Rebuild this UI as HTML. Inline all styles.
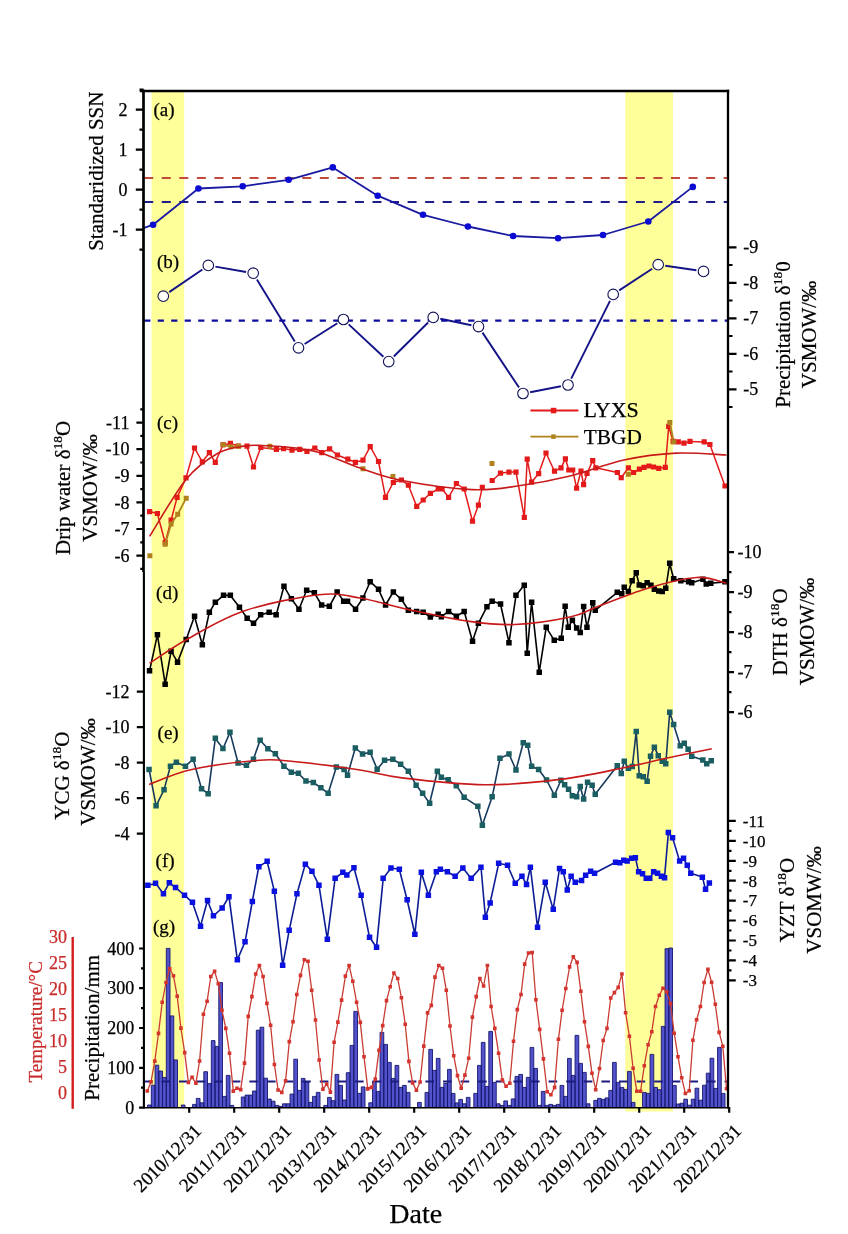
<!DOCTYPE html><html><head><meta charset="utf-8"><style>html,body{margin:0;padding:0;background:#fff;}svg{display:block;will-change:transform;}text{font-family:"Liberation Serif",serif;stroke-width:0.25px;}</style></head><body>
<svg width="848" height="1234" viewBox="0 0 848 1234">
<rect width="848" height="1234" fill="#fff"/>
<rect x="151.5" y="91" width="32.7" height="1016.5" fill="#FFFF99"/>
<rect x="625.3" y="91" width="47.7" height="1020.5" fill="#FFFF99"/>
<line x1="143.6" y1="178" x2="728.0" y2="178" stroke="#C24A3C" stroke-width="2.1" stroke-dasharray="9 8.56" stroke-dashoffset="-0.6"/>
<line x1="143.6" y1="202" x2="728.0" y2="202" stroke="#1E1E88" stroke-width="2.1" stroke-dasharray="9 8.56" stroke-dashoffset="-0.6"/>
<polyline points="143.6,228.2 153.1,224.7 198.4,188.5 242.7,186.3 288.6,179.8 332.8,167.4 377.7,195.7 423.0,214.8 467.9,226.5 513.1,236.0 558.1,238.2 603.0,235.0 648.3,221.5 692.8,186.9" fill="none" stroke="#1A1AA0" stroke-width="1.8" stroke-linejoin="round" />
<circle cx="153.1" cy="224.7" r="3.3" fill="#0A0AD2"/>
<circle cx="198.4" cy="188.5" r="3.3" fill="#0A0AD2"/>
<circle cx="242.7" cy="186.3" r="3.3" fill="#0A0AD2"/>
<circle cx="288.6" cy="179.8" r="3.3" fill="#0A0AD2"/>
<circle cx="332.8" cy="167.4" r="3.3" fill="#0A0AD2"/>
<circle cx="377.7" cy="195.7" r="3.3" fill="#0A0AD2"/>
<circle cx="423" cy="214.8" r="3.3" fill="#0A0AD2"/>
<circle cx="467.9" cy="226.5" r="3.3" fill="#0A0AD2"/>
<circle cx="513.1" cy="236" r="3.3" fill="#0A0AD2"/>
<circle cx="558.1" cy="238.2" r="3.3" fill="#0A0AD2"/>
<circle cx="603" cy="235" r="3.3" fill="#0A0AD2"/>
<circle cx="648.3" cy="221.5" r="3.3" fill="#0A0AD2"/>
<circle cx="692.8" cy="186.9" r="3.3" fill="#0A0AD2"/>
<path d="M169.2 292.1L202.4 269.5M215.4 266.6L246.1 272.0M256.9 279.4L294.8 341.6M304.6 344.0L337.3 323.3M348.7 324.4L383.4 356.7M393.8 356.5L428.1 322.5M440.3 318.8L471.4 325.2M482.5 332.6L519.0 387.5M530.1 392.2L560.9 386.3M571.2 378.6L610.0 300.8M619.2 290.4L652.2 268.7M665.3 265.8L696.4 270.3" stroke="#141488" stroke-width="1.9" fill="none"/>
<line x1="143.6" y1="320.6" x2="728.0" y2="320.6" stroke="#0C0CA0" stroke-width="2.3" stroke-dasharray="6.2 7.3" stroke-dashoffset="-0.6"/>
<circle cx="163.3" cy="296.2" r="5.3" fill="#fff" stroke="#12125A" stroke-width="1.1"/>
<circle cx="208.3" cy="265.4" r="5.3" fill="#fff" stroke="#12125A" stroke-width="1.1"/>
<circle cx="253.2" cy="273.2" r="5.3" fill="#fff" stroke="#12125A" stroke-width="1.1"/>
<circle cx="298.5" cy="347.8" r="5.3" fill="#fff" stroke="#12125A" stroke-width="1.1"/>
<circle cx="343.4" cy="319.5" r="5.3" fill="#fff" stroke="#12125A" stroke-width="1.1"/>
<circle cx="388.7" cy="361.6" r="5.3" fill="#fff" stroke="#12125A" stroke-width="1.1"/>
<circle cx="433.2" cy="317.4" r="5.3" fill="#fff" stroke="#12125A" stroke-width="1.1"/>
<circle cx="478.5" cy="326.6" r="5.3" fill="#fff" stroke="#12125A" stroke-width="1.1"/>
<circle cx="523" cy="393.5" r="5.3" fill="#fff" stroke="#12125A" stroke-width="1.1"/>
<circle cx="568" cy="385" r="5.3" fill="#fff" stroke="#12125A" stroke-width="1.1"/>
<circle cx="613.2" cy="294.4" r="5.3" fill="#fff" stroke="#12125A" stroke-width="1.1"/>
<circle cx="658.2" cy="264.7" r="5.3" fill="#fff" stroke="#12125A" stroke-width="1.1"/>
<circle cx="703.5" cy="271.4" r="5.3" fill="#fff" stroke="#12125A" stroke-width="1.1"/>
<polyline points="149.6,511.6 157.4,513.5 165.2,542.7 171.1,520.2 177.1,497.4 186.0,477.9 194.5,448.0 202.3,461.8 209.4,452.7 215.3,462.3 223.1,444.7 230.4,443.4 238.2,446.0 247.0,446.2 253.5,467.0 260.8,447.5 276.4,449.4 283.6,448.6 292.0,450.1 299.7,449.4 307.0,451.4 314.8,448.0 321.8,452.7 329.6,448.8 337.4,455.0 347.8,459.2 355.4,462.3 363.0,460.2 370.2,446.7 378.5,461.5 385.5,497.3 393.3,482.5 401.4,480.0 408.4,485.2 416.7,506.4 423.2,500.0 430.4,493.4 438.2,489.0 442.1,489.0 448.6,497.3 456.4,483.5 464.2,489.0 472.5,521.2 478.4,505.2 482.3,487.4" fill="none" stroke="#E41A1A" stroke-width="1.5" stroke-linejoin="round" />
<polyline points="492.2,480.5 500.5,473.2 509.0,472.1 516.0,472.1 524.3,517.3 527.2,459.2 531.6,482.2 538.7,473.6 546.0,453.0 554.5,471.2 561.0,467.8 565.4,458.8 568.8,470.0 572.7,470.0 576.6,488.1 581.0,471.0 583.6,484.7 587.0,473.5 592.7,460.6 595.8,467.8 617.4,472.5 621.2,477.7 628.4,467.8 633.6,472.5 639.4,469.1 644.0,467.3 648.9,466.0 653.6,467.0 658.8,468.3 665.3,467.3 668.7,426.4 673.1,441.4 678.3,441.9 684.0,443.2 690.0,441.4 704.2,441.9 709.9,444.5 725.0,486.0" fill="none" stroke="#E41A1A" stroke-width="1.5" stroke-linejoin="round" />
<path d="M147.0 509.0h5.2v5.2h-5.2zM154.8 510.9h5.2v5.2h-5.2zM162.6 540.1h5.2v5.2h-5.2zM168.5 517.6h5.2v5.2h-5.2zM174.5 494.8h5.2v5.2h-5.2zM183.4 475.3h5.2v5.2h-5.2zM191.9 445.4h5.2v5.2h-5.2zM199.7 459.2h5.2v5.2h-5.2zM206.8 450.1h5.2v5.2h-5.2zM212.7 459.7h5.2v5.2h-5.2zM220.5 442.1h5.2v5.2h-5.2zM227.8 440.8h5.2v5.2h-5.2zM235.6 443.4h5.2v5.2h-5.2zM244.4 443.6h5.2v5.2h-5.2zM250.9 464.4h5.2v5.2h-5.2zM258.2 444.9h5.2v5.2h-5.2zM273.8 446.8h5.2v5.2h-5.2zM281.0 446.0h5.2v5.2h-5.2zM289.4 447.5h5.2v5.2h-5.2zM297.1 446.8h5.2v5.2h-5.2zM304.4 448.8h5.2v5.2h-5.2zM312.2 445.4h5.2v5.2h-5.2zM319.2 450.1h5.2v5.2h-5.2zM327.0 446.2h5.2v5.2h-5.2zM334.8 452.4h5.2v5.2h-5.2zM345.2 456.6h5.2v5.2h-5.2zM352.8 459.7h5.2v5.2h-5.2zM360.4 457.6h5.2v5.2h-5.2zM367.6 444.1h5.2v5.2h-5.2zM375.9 458.9h5.2v5.2h-5.2zM382.9 494.7h5.2v5.2h-5.2zM390.7 479.9h5.2v5.2h-5.2zM398.8 477.4h5.2v5.2h-5.2zM405.8 482.6h5.2v5.2h-5.2zM414.1 503.8h5.2v5.2h-5.2zM420.6 497.4h5.2v5.2h-5.2zM427.8 490.8h5.2v5.2h-5.2zM435.6 486.4h5.2v5.2h-5.2zM439.5 486.4h5.2v5.2h-5.2zM446.0 494.7h5.2v5.2h-5.2zM453.8 480.9h5.2v5.2h-5.2zM461.6 486.4h5.2v5.2h-5.2zM469.9 518.6h5.2v5.2h-5.2zM475.8 502.6h5.2v5.2h-5.2zM479.7 484.8h5.2v5.2h-5.2zM489.6 477.9h5.2v5.2h-5.2zM497.9 470.6h5.2v5.2h-5.2zM506.4 469.5h5.2v5.2h-5.2zM513.4 469.5h5.2v5.2h-5.2zM521.7 514.7h5.2v5.2h-5.2zM524.6 456.6h5.2v5.2h-5.2zM529.0 479.6h5.2v5.2h-5.2zM536.1 471.0h5.2v5.2h-5.2zM543.4 450.4h5.2v5.2h-5.2zM551.9 468.6h5.2v5.2h-5.2zM558.4 465.2h5.2v5.2h-5.2zM562.8 456.2h5.2v5.2h-5.2zM566.2 467.4h5.2v5.2h-5.2zM570.1 467.4h5.2v5.2h-5.2zM574.0 485.5h5.2v5.2h-5.2zM578.4 468.4h5.2v5.2h-5.2zM581.0 482.1h5.2v5.2h-5.2zM584.4 470.9h5.2v5.2h-5.2zM590.1 458.0h5.2v5.2h-5.2zM593.2 465.2h5.2v5.2h-5.2zM614.8 469.9h5.2v5.2h-5.2zM618.6 475.1h5.2v5.2h-5.2zM625.8 465.2h5.2v5.2h-5.2zM631.0 469.9h5.2v5.2h-5.2zM636.8 466.5h5.2v5.2h-5.2zM641.4 464.7h5.2v5.2h-5.2zM646.3 463.4h5.2v5.2h-5.2zM651.0 464.4h5.2v5.2h-5.2zM656.2 465.7h5.2v5.2h-5.2zM662.7 464.7h5.2v5.2h-5.2zM666.1 423.8h5.2v5.2h-5.2zM670.5 438.8h5.2v5.2h-5.2zM675.7 439.3h5.2v5.2h-5.2zM681.4 440.6h5.2v5.2h-5.2zM687.4 438.8h5.2v5.2h-5.2zM701.6 439.3h5.2v5.2h-5.2zM707.3 441.9h5.2v5.2h-5.2zM722.4 483.4h5.2v5.2h-5.2z" fill="#E41A1A"/>
<polyline points="165.2,544.2 171.1,524.0 177.7,514.3 186.2,498.2" fill="none" stroke="#B0821E" stroke-width="1.8" stroke-linejoin="round" />
<polyline points="223.1,444.7 230.9,446.8 238.7,446.2" fill="none" stroke="#B0821E" stroke-width="1.8" stroke-linejoin="round" />
<polyline points="669.8,422.5 673.8,442.0" fill="none" stroke="#B0821E" stroke-width="1.8" stroke-linejoin="round" />
<path d="M147.4 553.3h5v5h-5zM162.7 541.7h5v5h-5zM168.6 521.5h5v5h-5zM175.2 511.8h5v5h-5zM183.7 495.7h5v5h-5zM220.6 442.2h5v5h-5zM228.4 444.3h5v5h-5zM236.2 443.7h5v5h-5zM267.4 443.7h5v5h-5zM360.5 466.3h5v5h-5zM390.4 474.1h5v5h-5zM489.5 461.1h5v5h-5zM625.9 471.8h5v5h-5zM667.3 420.0h5v5h-5zM671.3 439.5h5v5h-5z" fill="#B0821E"/>
<path d="M149.6 536.4 C155.7 526.9 174.8 493.1 186.2 479.2 C197.6 465.3 208.3 458.7 217.9 453.2 C227.5 447.7 236.6 447.5 243.9 446.2 C251.2 444.9 253.4 445.2 262.0 445.5 C270.6 445.8 285.8 446.7 295.7 448.0 C305.6 449.3 310.9 449.9 321.6 453.2 C332.3 456.5 346.6 463.4 360.0 468.0 C373.4 472.6 383.3 476.9 402.0 480.5 C420.7 484.1 452.5 488.7 472.0 489.6 C491.5 490.5 502.7 488.1 519.0 485.8 C535.3 483.5 552.5 480.3 570.0 476.0 C587.5 471.7 606.3 463.8 623.9 460.0 C641.5 456.2 658.7 453.9 675.8 453.1 C692.9 452.3 718.0 454.7 726.5 455.0" fill="none" stroke="#C81A1A" stroke-width="1.6"/>
<line x1="530.4" y1="410.5" x2="578.4" y2="410.5" stroke="#E41A1A" stroke-width="1.8"/>
<path d="M550.8 407.8h5.5v5.5h-5.5z" fill="#E41A1A"/>
<line x1="530.4" y1="436.6" x2="578.4" y2="436.6" stroke="#B0821E" stroke-width="1.8"/>
<path d="M551.2 434.4h4.5v4.5h-4.5z" fill="#B0821E"/>
<text x="583.6" y="417.3" font-size="22" text-anchor="start" fill="#000" stroke="#000" >LYXS</text>
<text x="583.8" y="443.6" font-size="21.3" text-anchor="start" fill="#000" stroke="#000" >TBGD</text>
<polyline points="149.6,670.6 157.4,634.8 165.2,684.1 171.1,651.2 177.6,662.1 186.2,639.5 194.5,616.2 202.3,644.7 209.3,612.3 215.3,602.4 223.5,595.4 230.3,595.4 239.4,607.1 247.2,618.3 253.6,623.4 260.6,614.9 269.2,612.3 276.2,614.9 284.0,586.3 291.3,598.8 299.0,609.2 306.6,590.2 314.3,592.8 321.6,605.0 329.4,606.3 337.2,592.0 343.7,601.1 347.5,601.1 355.5,609.1 363.0,598.0 370.2,581.7 378.5,589.4 385.5,605.0 393.3,592.0 401.4,599.3 408.4,610.2 416.7,611.5 423.2,612.3 430.4,617.0 438.2,614.1 441.3,616.7 448.6,611.5 456.4,616.2 464.2,611.5 472.5,641.3 478.4,623.4 487.0,606.6 492.2,601.1 500.5,604.0 509.0,642.6 516.0,595.4 524.3,585.1 527.2,653.3 531.6,602.3 539.2,672.1 546.2,627.3 554.3,640.3 561.2,638.2 565.1,606.4 568.3,627.3 572.4,620.3 576.6,628.0 580.2,632.5 583.6,606.5 587.0,627.3 592.7,602.6 595.2,610.4 617.3,592.3 621.7,593.6 624.3,587.1 628.4,591.5 632.1,580.6 636.2,572.8 639.3,585.0 643.2,585.8 647.1,582.7 651.0,585.3 654.4,589.2 658.8,591.0 662.2,591.5 665.8,588.4 669.7,563.2 673.6,578.8 680.9,580.6 688.6,581.9 691.8,582.7 703.0,579.3 706.3,584.0 710.7,583.2 725.0,581.9" fill="none" stroke="#000" stroke-width="1.6" stroke-linejoin="round" />
<path d="M146.8 667.9h5.5v5.5h-5.5zM154.7 632.0h5.5v5.5h-5.5zM162.4 681.4h5.5v5.5h-5.5zM168.3 648.5h5.5v5.5h-5.5zM174.8 659.4h5.5v5.5h-5.5zM183.4 636.8h5.5v5.5h-5.5zM191.8 613.5h5.5v5.5h-5.5zM199.6 642.0h5.5v5.5h-5.5zM206.6 609.5h5.5v5.5h-5.5zM212.6 599.6h5.5v5.5h-5.5zM220.8 592.6h5.5v5.5h-5.5zM227.6 592.6h5.5v5.5h-5.5zM236.7 604.4h5.5v5.5h-5.5zM244.4 615.5h5.5v5.5h-5.5zM250.8 620.6h5.5v5.5h-5.5zM257.9 612.1h5.5v5.5h-5.5zM266.4 609.5h5.5v5.5h-5.5zM273.4 612.1h5.5v5.5h-5.5zM281.2 583.5h5.5v5.5h-5.5zM288.6 596.0h5.5v5.5h-5.5zM296.2 606.5h5.5v5.5h-5.5zM303.9 587.5h5.5v5.5h-5.5zM311.6 590.0h5.5v5.5h-5.5zM318.9 602.2h5.5v5.5h-5.5zM326.6 603.5h5.5v5.5h-5.5zM334.4 589.2h5.5v5.5h-5.5zM340.9 598.4h5.5v5.5h-5.5zM344.8 598.4h5.5v5.5h-5.5zM352.8 606.4h5.5v5.5h-5.5zM360.2 595.2h5.5v5.5h-5.5zM367.4 579.0h5.5v5.5h-5.5zM375.8 586.6h5.5v5.5h-5.5zM382.8 602.2h5.5v5.5h-5.5zM390.6 589.2h5.5v5.5h-5.5zM398.6 596.5h5.5v5.5h-5.5zM405.6 607.5h5.5v5.5h-5.5zM413.9 608.8h5.5v5.5h-5.5zM420.4 609.5h5.5v5.5h-5.5zM427.6 614.2h5.5v5.5h-5.5zM435.4 611.4h5.5v5.5h-5.5zM438.6 614.0h5.5v5.5h-5.5zM445.9 608.8h5.5v5.5h-5.5zM453.6 613.5h5.5v5.5h-5.5zM461.4 608.8h5.5v5.5h-5.5zM469.8 638.5h5.5v5.5h-5.5zM475.6 620.6h5.5v5.5h-5.5zM484.2 603.9h5.5v5.5h-5.5zM489.4 598.4h5.5v5.5h-5.5zM497.8 601.2h5.5v5.5h-5.5zM506.2 639.9h5.5v5.5h-5.5zM513.2 592.6h5.5v5.5h-5.5zM521.5 582.4h5.5v5.5h-5.5zM524.5 650.5h5.5v5.5h-5.5zM528.9 599.5h5.5v5.5h-5.5zM536.5 669.4h5.5v5.5h-5.5zM543.5 624.5h5.5v5.5h-5.5zM551.5 637.5h5.5v5.5h-5.5zM558.5 635.5h5.5v5.5h-5.5zM562.4 603.6h5.5v5.5h-5.5zM565.5 624.5h5.5v5.5h-5.5zM569.6 617.5h5.5v5.5h-5.5zM573.9 625.2h5.5v5.5h-5.5zM577.5 629.8h5.5v5.5h-5.5zM580.9 603.8h5.5v5.5h-5.5zM584.2 624.5h5.5v5.5h-5.5zM590.0 599.9h5.5v5.5h-5.5zM592.5 607.6h5.5v5.5h-5.5zM614.5 589.5h5.5v5.5h-5.5zM619.0 590.9h5.5v5.5h-5.5zM621.5 584.4h5.5v5.5h-5.5zM625.6 588.8h5.5v5.5h-5.5zM629.4 577.9h5.5v5.5h-5.5zM633.5 570.0h5.5v5.5h-5.5zM636.5 582.2h5.5v5.5h-5.5zM640.5 583.0h5.5v5.5h-5.5zM644.4 580.0h5.5v5.5h-5.5zM648.2 582.5h5.5v5.5h-5.5zM651.6 586.5h5.5v5.5h-5.5zM656.0 588.2h5.5v5.5h-5.5zM659.5 588.8h5.5v5.5h-5.5zM663.0 585.6h5.5v5.5h-5.5zM667.0 560.5h5.5v5.5h-5.5zM670.9 576.0h5.5v5.5h-5.5zM678.1 577.9h5.5v5.5h-5.5zM685.9 579.1h5.5v5.5h-5.5zM689.0 580.0h5.5v5.5h-5.5zM700.2 576.5h5.5v5.5h-5.5zM703.5 581.2h5.5v5.5h-5.5zM708.0 580.5h5.5v5.5h-5.5zM722.2 579.1h5.5v5.5h-5.5z" fill="#000"/>
<path d="M149.6 663.4 C155.8 659.4 171.0 648.2 186.7 639.5 C202.4 630.8 221.8 618.5 243.9 611.0 C265.9 603.5 299.6 596.9 319.0 594.7 C338.4 592.5 345.3 595.6 360.0 598.0 C374.7 600.4 388.9 605.3 407.1 609.2 C425.4 613.1 451.5 618.9 469.5 621.4 C487.5 623.9 498.2 625.2 515.0 624.5 C531.8 623.8 556.2 620.0 570.0 617.0 C583.8 614.0 584.9 611.3 597.8 606.5 C610.6 601.7 630.7 593.2 647.1 588.4 C663.5 583.6 683.2 578.4 696.4 577.5 C709.6 576.6 721.5 582.2 726.5 583.2" fill="none" stroke="#C81A1A" stroke-width="1.6"/>
<polyline points="149.1,769.5 156.1,805.9 164.1,789.6 170.4,766.2 176.3,762.3 185.4,766.2 193.2,759.2 201.5,788.7 208.2,793.9 215.3,738.4 223.0,748.5 230.0,732.4 238.1,763.0 246.4,765.4 253.4,759.2 260.1,740.2 267.9,748.8 275.4,753.7 284.0,766.2 291.3,772.1 298.3,773.4 306.0,781.0 313.3,782.5 320.8,787.7 328.1,793.4 336.4,767.0 344.2,769.5 347.5,775.2 355.3,748.0 362.5,754.0 370.2,752.4 377.2,769.3 384.5,760.4 392.8,759.2 400.6,764.1 408.4,771.3 416.2,785.1 422.6,793.4 429.6,803.3 437.4,771.3 441.3,777.3 448.1,779.9 456.4,785.6 464.2,797.3 477.9,806.4 482.3,825.3 492.2,796.8 500.0,758.4 509.0,754.0 516.0,770.0 523.3,742.8 527.7,745.4 531.6,766.2 538.6,769.5 546.5,780.0 554.4,795.2 561.0,780.3 564.6,784.7 568.5,789.1 572.4,795.9 576.6,796.9 580.2,786.5 583.6,799.0 587.5,782.1 592.1,785.2 595.2,794.3 617.3,765.8 621.2,773.5 624.3,761.3 628.4,768.4 632.3,766.5 636.2,731.5 639.3,775.6 643.2,776.9 647.1,781.3 650.5,756.2 654.4,747.1 658.3,755.6 662.2,761.3 665.8,763.9 669.7,712.1 673.6,724.5 680.3,745.8 684.2,743.2 688.1,749.2 691.8,756.2 702.9,760.0 706.8,763.9 711.2,760.6" fill="none" stroke="#173A5C" stroke-width="1.6" stroke-linejoin="round" />
<path d="M146.3 766.8h5.5v5.5h-5.5zM153.3 803.1h5.5v5.5h-5.5zM161.3 786.9h5.5v5.5h-5.5zM167.7 763.5h5.5v5.5h-5.5zM173.6 759.5h5.5v5.5h-5.5zM182.7 763.5h5.5v5.5h-5.5zM190.4 756.5h5.5v5.5h-5.5zM198.8 786.0h5.5v5.5h-5.5zM205.4 791.1h5.5v5.5h-5.5zM212.6 735.6h5.5v5.5h-5.5zM220.2 745.8h5.5v5.5h-5.5zM227.2 729.6h5.5v5.5h-5.5zM235.3 760.2h5.5v5.5h-5.5zM243.7 762.6h5.5v5.5h-5.5zM250.7 756.5h5.5v5.5h-5.5zM257.4 737.5h5.5v5.5h-5.5zM265.1 746.0h5.5v5.5h-5.5zM272.6 751.0h5.5v5.5h-5.5zM281.2 763.5h5.5v5.5h-5.5zM288.6 769.4h5.5v5.5h-5.5zM295.6 770.6h5.5v5.5h-5.5zM303.2 778.2h5.5v5.5h-5.5zM310.6 779.8h5.5v5.5h-5.5zM318.1 785.0h5.5v5.5h-5.5zM325.4 790.6h5.5v5.5h-5.5zM333.6 764.2h5.5v5.5h-5.5zM341.4 766.8h5.5v5.5h-5.5zM344.8 772.5h5.5v5.5h-5.5zM352.6 745.2h5.5v5.5h-5.5zM359.8 751.2h5.5v5.5h-5.5zM367.4 749.6h5.5v5.5h-5.5zM374.4 766.5h5.5v5.5h-5.5zM381.8 757.6h5.5v5.5h-5.5zM390.1 756.5h5.5v5.5h-5.5zM397.9 761.4h5.5v5.5h-5.5zM405.6 768.5h5.5v5.5h-5.5zM413.4 782.4h5.5v5.5h-5.5zM419.9 790.6h5.5v5.5h-5.5zM426.9 800.5h5.5v5.5h-5.5zM434.6 768.5h5.5v5.5h-5.5zM438.6 774.5h5.5v5.5h-5.5zM445.4 777.1h5.5v5.5h-5.5zM453.6 782.9h5.5v5.5h-5.5zM461.4 794.5h5.5v5.5h-5.5zM475.1 803.6h5.5v5.5h-5.5zM479.6 822.5h5.5v5.5h-5.5zM489.4 794.0h5.5v5.5h-5.5zM497.2 755.6h5.5v5.5h-5.5zM506.2 751.2h5.5v5.5h-5.5zM513.2 767.2h5.5v5.5h-5.5zM520.5 740.0h5.5v5.5h-5.5zM525.0 742.6h5.5v5.5h-5.5zM528.9 763.5h5.5v5.5h-5.5zM535.9 766.8h5.5v5.5h-5.5zM543.8 777.2h5.5v5.5h-5.5zM551.6 792.5h5.5v5.5h-5.5zM558.2 777.5h5.5v5.5h-5.5zM561.9 782.0h5.5v5.5h-5.5zM565.8 786.4h5.5v5.5h-5.5zM569.6 793.1h5.5v5.5h-5.5zM573.9 794.1h5.5v5.5h-5.5zM577.5 783.8h5.5v5.5h-5.5zM580.9 796.2h5.5v5.5h-5.5zM584.8 779.4h5.5v5.5h-5.5zM589.4 782.5h5.5v5.5h-5.5zM592.5 791.5h5.5v5.5h-5.5zM614.5 763.0h5.5v5.5h-5.5zM618.5 770.8h5.5v5.5h-5.5zM621.5 758.5h5.5v5.5h-5.5zM625.6 765.6h5.5v5.5h-5.5zM629.5 763.8h5.5v5.5h-5.5zM633.5 728.8h5.5v5.5h-5.5zM636.5 772.9h5.5v5.5h-5.5zM640.5 774.1h5.5v5.5h-5.5zM644.4 778.5h5.5v5.5h-5.5zM647.8 753.5h5.5v5.5h-5.5zM651.6 744.4h5.5v5.5h-5.5zM655.5 752.9h5.5v5.5h-5.5zM659.5 758.5h5.5v5.5h-5.5zM663.0 761.1h5.5v5.5h-5.5zM667.0 709.4h5.5v5.5h-5.5zM670.9 721.8h5.5v5.5h-5.5zM677.5 743.0h5.5v5.5h-5.5zM681.5 740.5h5.5v5.5h-5.5zM685.4 746.5h5.5v5.5h-5.5zM689.0 753.5h5.5v5.5h-5.5zM700.1 757.2h5.5v5.5h-5.5zM704.0 761.1h5.5v5.5h-5.5zM708.5 757.9h5.5v5.5h-5.5z" fill="#1B5E62"/>
<path d="M149.1 784.4 C156.2 781.9 173.5 773.5 191.9 769.5 C210.3 765.5 242.0 761.5 259.3 760.2 C276.6 758.9 278.9 760.2 295.7 761.8 C312.5 763.4 342.3 767.3 360.0 770.0 C377.7 772.7 381.2 775.4 402.0 777.9 C422.8 780.4 458.7 784.5 485.0 784.8 C511.3 785.0 536.9 782.2 560.0 779.4 C583.1 776.6 606.0 771.3 623.7 767.8 C641.4 764.3 651.4 761.4 666.1 758.2 C680.8 755.0 704.2 750.3 711.8 748.7" fill="none" stroke="#C81A1A" stroke-width="1.6"/>
<polyline points="147.8,885.4 155.6,883.3 163.4,893.7 169.3,882.8 175.5,887.5 184.6,895.3 192.4,902.3 200.5,926.1 207.5,900.5 213.4,915.8 222.2,908.0 229.0,896.6 237.3,959.9 245.1,941.7 252.3,901.5 258.8,866.7 267.1,861.3 274.4,891.4 282.7,965.3 289.2,930.3 297.0,893.7 305.3,864.1 312.0,871.1 319.0,885.4 327.3,939.1 335.1,878.4 342.9,872.4 346.8,875.0 354.0,867.8 361.2,895.3 369.5,937.3 376.5,947.2 383.2,878.4 391.0,868.0 399.3,869.3 407.1,899.7 414.9,934.2 421.3,872.4 428.4,895.3 436.4,871.9 440.3,869.3 447.3,871.7 455.1,876.3 462.9,868.0 471.2,878.4 481.0,867.2 485.4,917.3 490.1,903.0 498.7,863.3 507.5,865.2 515.3,883.3 522.0,876.3 526.5,884.5 530.4,867.4 537.5,927.1 545.3,882.3 553.2,909.4 559.5,868.5 563.3,871.9 567.3,890.0 571.1,876.3 575.3,882.3 581.5,880.5 585.6,875.3 590.6,871.1 594.5,873.2 615.5,862.3 619.9,862.8 623.8,860.2 627.1,861.0 631.6,858.4 635.4,857.6 638.6,871.9 642.5,873.7 646.3,878.4 649.7,878.4 653.6,871.9 657.5,873.2 661.4,876.3 664.5,877.6 668.4,832.5 672.5,837.6 679.6,861.0 683.5,858.4 687.3,865.4 690.7,873.2 702.4,877.1 705.5,889.3 709.4,883.0" fill="none" stroke="#0C1C96" stroke-width="1.6" stroke-linejoin="round" />
<path d="M145.1 882.6h5.5v5.5h-5.5zM152.8 880.5h5.5v5.5h-5.5zM160.7 891.0h5.5v5.5h-5.5zM166.6 880.0h5.5v5.5h-5.5zM172.8 884.8h5.5v5.5h-5.5zM181.8 892.5h5.5v5.5h-5.5zM189.7 899.5h5.5v5.5h-5.5zM197.8 923.4h5.5v5.5h-5.5zM204.8 897.8h5.5v5.5h-5.5zM210.7 913.0h5.5v5.5h-5.5zM219.4 905.2h5.5v5.5h-5.5zM226.2 893.9h5.5v5.5h-5.5zM234.6 957.1h5.5v5.5h-5.5zM242.3 939.0h5.5v5.5h-5.5zM249.6 898.8h5.5v5.5h-5.5zM256.1 864.0h5.5v5.5h-5.5zM264.4 858.5h5.5v5.5h-5.5zM271.6 888.6h5.5v5.5h-5.5zM279.9 962.5h5.5v5.5h-5.5zM286.4 927.5h5.5v5.5h-5.5zM294.2 891.0h5.5v5.5h-5.5zM302.6 861.4h5.5v5.5h-5.5zM309.2 868.4h5.5v5.5h-5.5zM316.2 882.6h5.5v5.5h-5.5zM324.6 936.4h5.5v5.5h-5.5zM332.4 875.6h5.5v5.5h-5.5zM340.1 869.6h5.5v5.5h-5.5zM344.1 872.2h5.5v5.5h-5.5zM351.2 865.0h5.5v5.5h-5.5zM358.4 892.5h5.5v5.5h-5.5zM366.8 934.5h5.5v5.5h-5.5zM373.8 944.5h5.5v5.5h-5.5zM380.4 875.6h5.5v5.5h-5.5zM388.2 865.2h5.5v5.5h-5.5zM396.6 866.5h5.5v5.5h-5.5zM404.4 897.0h5.5v5.5h-5.5zM412.1 931.5h5.5v5.5h-5.5zM418.6 869.6h5.5v5.5h-5.5zM425.6 892.5h5.5v5.5h-5.5zM433.6 869.1h5.5v5.5h-5.5zM437.6 866.5h5.5v5.5h-5.5zM444.6 869.0h5.5v5.5h-5.5zM452.4 873.5h5.5v5.5h-5.5zM460.1 865.2h5.5v5.5h-5.5zM468.4 875.6h5.5v5.5h-5.5zM478.2 864.5h5.5v5.5h-5.5zM482.6 914.5h5.5v5.5h-5.5zM487.4 900.2h5.5v5.5h-5.5zM495.9 860.5h5.5v5.5h-5.5zM504.8 862.5h5.5v5.5h-5.5zM512.5 880.5h5.5v5.5h-5.5zM519.2 873.5h5.5v5.5h-5.5zM523.8 881.8h5.5v5.5h-5.5zM527.6 864.6h5.5v5.5h-5.5zM534.8 924.4h5.5v5.5h-5.5zM542.5 879.5h5.5v5.5h-5.5zM550.5 906.6h5.5v5.5h-5.5zM556.8 865.8h5.5v5.5h-5.5zM560.5 869.1h5.5v5.5h-5.5zM564.5 887.2h5.5v5.5h-5.5zM568.4 873.5h5.5v5.5h-5.5zM572.5 879.5h5.5v5.5h-5.5zM578.8 877.8h5.5v5.5h-5.5zM582.9 872.5h5.5v5.5h-5.5zM587.9 868.4h5.5v5.5h-5.5zM591.8 870.5h5.5v5.5h-5.5zM612.8 859.5h5.5v5.5h-5.5zM617.1 860.0h5.5v5.5h-5.5zM621.0 857.5h5.5v5.5h-5.5zM624.4 858.2h5.5v5.5h-5.5zM628.9 855.6h5.5v5.5h-5.5zM632.6 854.9h5.5v5.5h-5.5zM635.9 869.1h5.5v5.5h-5.5zM639.8 871.0h5.5v5.5h-5.5zM643.5 875.6h5.5v5.5h-5.5zM647.0 875.6h5.5v5.5h-5.5zM650.9 869.1h5.5v5.5h-5.5zM654.8 870.5h5.5v5.5h-5.5zM658.6 873.5h5.5v5.5h-5.5zM661.8 874.9h5.5v5.5h-5.5zM665.6 829.8h5.5v5.5h-5.5zM669.8 834.9h5.5v5.5h-5.5zM676.9 858.2h5.5v5.5h-5.5zM680.8 855.6h5.5v5.5h-5.5zM684.5 862.6h5.5v5.5h-5.5zM688.0 870.5h5.5v5.5h-5.5zM699.6 874.4h5.5v5.5h-5.5zM702.8 886.5h5.5v5.5h-5.5zM706.6 880.2h5.5v5.5h-5.5z" fill="#0A10E0"/>
<path d="M147.55 1107.4V1105.0H151.25V1107.4M151.30 1107.4V1085.2H155.00V1107.4M155.05 1107.4V1065.2H158.75V1107.4M158.80 1107.4V1071.0H162.50V1107.4M162.55 1107.4V1077.4H166.25V1107.4M166.30 1107.4V948.4H170.00V1107.4M170.05 1107.4V1015.9H173.75V1107.4M173.80 1107.4V1059.9H177.50V1107.4M181.30 1107.4V1105.0H185.00V1107.4M192.55 1107.4V1104.4H196.25V1107.4M196.30 1107.4V1098.4H200.00V1107.4M200.05 1107.4V1102.8H203.75V1107.4M203.80 1107.4V1071.7H207.50V1107.4M207.55 1107.4V1083.6H211.25V1107.4M211.30 1107.4V1040.6H215.00V1107.4M215.05 1107.4V1046.4H218.75V1107.4M218.80 1107.4V982.6H222.50V1107.4M222.55 1107.4V1096.4H226.25V1107.4M226.30 1107.4V1075.4H230.00V1107.4M230.05 1107.4V1105.4H233.75V1107.4M241.30 1107.4V1097.0H245.00V1107.4M245.05 1107.4V1095.1H248.75V1107.4M248.80 1107.4V1095.1H252.50V1107.4M252.55 1107.4V1091.0H256.25V1107.4M256.30 1107.4V1030.2H260.00V1107.4M260.05 1107.4V1027.2H263.75V1107.4M263.80 1107.4V1078.2H267.50V1107.4M267.55 1107.4V1099.1H271.25V1107.4M271.30 1107.4V1101.2H275.00V1107.4M275.05 1107.4V1105.4H278.75V1107.4M278.80 1107.4V1106.4H282.50V1107.4M282.55 1107.4V1103.8H286.25V1107.4M286.30 1107.4V1103.8H290.00V1107.4M290.05 1107.4V1094.1H293.75V1107.4M293.80 1107.4V1059.2H297.50V1107.4M297.55 1107.4V1090.4H301.25V1107.4M301.30 1107.4V1078.4H305.00V1107.4M305.05 1107.4V1081.9H308.75V1107.4M308.80 1107.4V1102.4H312.50V1107.4M312.55 1107.4V1096.4H316.25V1107.4M316.30 1107.4V1092.4H320.00V1107.4M323.80 1107.4V1105.4H327.50V1107.4M327.55 1107.4V1097.4H331.25V1107.4M331.30 1107.4V1100.7H335.00V1107.4M335.05 1107.4V1074.4H338.75V1107.4M338.80 1107.4V1085.4H342.50V1107.4M342.55 1107.4V1100.0H346.25V1107.4M346.30 1107.4V1072.7H350.00V1107.4M350.05 1107.4V1045.4H353.75V1107.4M353.80 1107.4V1011.4H357.50V1107.4M357.55 1107.4V1093.4H361.25V1107.4M361.30 1107.4V1086.9H365.00V1107.4M368.80 1107.4V1102.8H372.50V1107.4M372.55 1107.4V1081.4H376.25V1107.4M376.30 1107.4V1091.4H380.00V1107.4M380.05 1107.4V1032.4H383.75V1107.4M383.80 1107.4V1044.4H387.50V1107.4M387.55 1107.4V1062.4H391.25V1107.4M391.30 1107.4V1078.4H395.00V1107.4M395.05 1107.4V1065.4H398.75V1107.4M398.80 1107.4V1087.4H402.50V1107.4M402.55 1107.4V1085.4H406.25V1107.4M406.30 1107.4V1092.4H410.00V1107.4M417.55 1107.4V1102.4H421.25V1107.4M425.05 1107.4V1092.4H428.75V1107.4M428.80 1107.4V1049.4H432.50V1107.4M432.55 1107.4V1070.4H436.25V1107.4M436.30 1107.4V1058.4H440.00V1107.4M440.05 1107.4V1087.4H443.75V1107.4M443.80 1107.4V1083.4H447.50V1107.4M447.55 1107.4V1069.4H451.25V1107.4M451.30 1107.4V1093.4H455.00V1107.4M455.05 1107.4V1102.9H458.75V1107.4M458.80 1107.4V1099.4H462.50V1107.4M462.55 1107.4V1103.8H466.25V1107.4M466.30 1107.4V1097.4H470.00V1107.4M473.80 1107.4V1093.4H477.50V1107.4M477.55 1107.4V1065.4H481.25V1107.4M481.30 1107.4V1042.4H485.00V1107.4M485.05 1107.4V1086.4H488.75V1107.4M488.80 1107.4V1031.4H492.50V1107.4M492.55 1107.4V1082.4H496.25V1107.4M496.30 1107.4V1103.8H500.00V1107.4M500.05 1107.4V1105.4H503.75V1107.4M503.80 1107.4V1100.9H507.50V1107.4M507.55 1107.4V1105.4H511.25V1107.4M511.30 1107.4V1098.9H515.00V1107.4M515.05 1107.4V1076.4H518.75V1107.4M518.80 1107.4V1074.4H522.50V1107.4M522.55 1107.4V1087.4H526.25V1107.4M526.30 1107.4V1077.4H530.00V1107.4M530.05 1107.4V1047.4H533.75V1107.4M533.80 1107.4V1068.4H537.50V1107.4M537.55 1107.4V1105.4H541.25V1107.4M541.30 1107.4V1091.4H545.00V1107.4M545.05 1107.4V1105.4H548.75V1107.4M548.80 1107.4V1104.4H552.50V1107.4M552.55 1107.4V1105.4H556.25V1107.4M556.30 1107.4V1104.4H560.00V1107.4M560.05 1107.4V1085.4H563.75V1107.4M563.80 1107.4V1096.4H567.50V1107.4M567.55 1107.4V1058.4H571.25V1107.4M571.30 1107.4V1075.4H575.00V1107.4M575.05 1107.4V1035.4H578.75V1107.4M578.80 1107.4V1063.4H582.50V1107.4M582.55 1107.4V1072.4H586.25V1107.4M586.30 1107.4V1103.8H590.00V1107.4M593.80 1107.4V1100.4H597.50V1107.4M597.55 1107.4V1098.4H601.25V1107.4M601.30 1107.4V1099.4H605.00V1107.4M605.05 1107.4V1097.9H608.75V1107.4M608.80 1107.4V1090.4H612.50V1107.4M612.55 1107.4V1062.4H616.25V1107.4M616.30 1107.4V1082.4H620.00V1107.4M620.05 1107.4V1087.4H623.75V1107.4M623.80 1107.4V1089.4H627.50V1107.4M627.55 1107.4V1071.4H631.25V1107.4M631.30 1107.4V1102.4H635.00V1107.4M642.55 1107.4V1092.4H646.25V1107.4M646.30 1107.4V1093.4H650.00V1107.4M650.05 1107.4V1054.4H653.75V1107.4M653.80 1107.4V1087.4H657.50V1107.4M657.55 1107.4V1089.7H661.25V1107.4M661.30 1107.4V1026.4H665.00V1107.4M665.05 1107.4V948.7H668.75V1107.4M668.80 1107.4V948.0H672.50V1107.4M672.55 1107.4V1085.4H676.25V1107.4M676.30 1107.4V1104.0H680.00V1107.4M680.05 1107.4V1103.2H683.75V1107.4M683.80 1107.4V1099.2H687.50V1107.4M687.55 1107.4V1105.2H691.25V1107.4M691.30 1107.4V1099.2H695.00V1107.4M695.05 1107.4V1088.2H698.75V1107.4M698.80 1107.4V1100.2H702.50V1107.4M702.55 1107.4V1085.2H706.25V1107.4M706.30 1107.4V1073.2H710.00V1107.4M710.05 1107.4V1058.2H713.75V1107.4M713.80 1107.4V1088.4H717.50V1107.4M717.55 1107.4V1047.4H721.25V1107.4M721.30 1107.4V1093.4H725.00V1107.4" fill="#5252CC" stroke="#16166E" stroke-width="0.9"/>
<line x1="143.6" y1="1081.5" x2="728.0" y2="1081.5" stroke="#1C1C80" stroke-width="2" stroke-dasharray="8.6 9" stroke-dashoffset="-0.2"/>
<polyline points="147.3,1091.0 151.0,1081.9 154.8,1061.1 158.5,1033.4 162.2,1002.3 166.0,982.5 169.7,968.7 173.5,975.8 177.2,996.2 180.9,1028.1 184.7,1052.6 188.4,1082.5 192.1,1077.3 195.9,1083.2 199.6,1061.0 203.4,1014.3 207.1,1001.3 210.8,976.5 214.6,971.4 218.3,983.6 222.0,1010.3 225.8,1028.4 229.5,1053.2 233.3,1091.1 237.0,1088.3 240.7,1089.6 244.5,1063.1 248.2,1016.4 251.9,996.6 255.7,974.0 259.4,965.5 263.1,976.5 266.9,1003.4 270.6,1025.3 274.4,1064.5 278.1,1090.0 281.8,1092.4 285.6,1080.8 289.3,1041.6 293.0,1021.8 296.8,994.5 300.5,975.4 304.3,959.8 308.0,961.2 311.7,990.2 315.5,1020.0 319.2,1060.0 322.9,1089.3 326.7,1084.0 330.4,1092.1 334.1,1042.2 337.9,1022.1 341.6,1000.1 345.4,976.1 349.1,965.5 352.8,981.3 356.6,1002.3 360.3,1022.4 364.0,1056.7 367.8,1088.9 371.5,1087.4 375.3,1079.1 379.0,1050.4 382.7,1025.6 386.5,1000.6 390.2,986.7 393.9,973.0 397.7,978.5 401.4,997.7 405.2,1024.2 408.9,1061.4 412.6,1082.9 416.4,1090.3 420.1,1082.0 423.8,1046.1 427.6,1012.9 431.3,1005.4 435.0,977.1 438.8,965.5 442.5,968.3 446.3,990.2 450.0,1026.0 453.7,1055.7 457.5,1075.6 461.2,1088.3 464.9,1075.1 468.7,1058.2 472.4,1017.1 476.2,996.6 479.9,978.5 483.6,986.0 487.4,965.5 491.1,1006.5 494.8,1028.4 498.6,1053.2 502.3,1080.1 506.1,1086.2 509.8,1083.2 513.5,1041.2 517.3,1009.6 521.0,994.5 524.7,964.1 528.5,953.0 532.2,952.5 535.9,999.7 539.7,1029.4 543.4,1058.9 547.2,1091.8 550.9,1094.7 554.6,1087.4 558.4,1039.3 562.1,1010.3 565.8,988.5 569.6,966.9 573.3,956.7 577.1,962.4 580.8,991.2 584.5,1021.8 588.3,1046.4 592.0,1073.3 595.7,1089.7 599.5,1068.5 603.2,1040.5 607.0,1028.4 610.7,998.0 614.4,992.6 618.2,987.4 621.9,974.0 625.6,1012.8 629.4,1036.2 633.1,1068.3 636.8,1091.2 640.6,1091.2 644.3,1065.7 648.1,1044.7 651.8,1031.7 655.5,1006.5 659.3,995.2 663.0,988.2 666.7,991.8 670.5,1003.8 674.2,1033.2 678.0,1056.7 681.7,1077.7 685.4,1093.5 689.2,1090.8 692.9,1040.2 696.6,1019.7 700.4,1006.5 704.1,982.5 707.9,969.3 711.6,982.2 715.3,1004.2 719.1,1032.4 722.8,1046.2 726.5,1088.7" fill="none" stroke="#C93C34" stroke-width="1.3" stroke-linejoin="round" />
<path d="M145.5 1089.2h3.6v3.6h-3.6zM149.2 1080.1h3.6v3.6h-3.6zM153.0 1059.3h3.6v3.6h-3.6zM156.7 1031.6h3.6v3.6h-3.6zM160.4 1000.5h3.6v3.6h-3.6zM164.2 980.7h3.6v3.6h-3.6zM167.9 966.9h3.6v3.6h-3.6zM171.7 974.0h3.6v3.6h-3.6zM175.4 994.4h3.6v3.6h-3.6zM179.1 1026.3h3.6v3.6h-3.6zM182.9 1050.8h3.6v3.6h-3.6zM186.6 1080.7h3.6v3.6h-3.6zM190.3 1075.5h3.6v3.6h-3.6zM194.1 1081.4h3.6v3.6h-3.6zM197.8 1059.2h3.6v3.6h-3.6zM201.6 1012.5h3.6v3.6h-3.6zM205.3 999.5h3.6v3.6h-3.6zM209.0 974.7h3.6v3.6h-3.6zM212.8 969.6h3.6v3.6h-3.6zM216.5 981.8h3.6v3.6h-3.6zM220.2 1008.5h3.6v3.6h-3.6zM224.0 1026.6h3.6v3.6h-3.6zM227.7 1051.4h3.6v3.6h-3.6zM231.5 1089.3h3.6v3.6h-3.6zM235.2 1086.5h3.6v3.6h-3.6zM238.9 1087.8h3.6v3.6h-3.6zM242.7 1061.3h3.6v3.6h-3.6zM246.4 1014.6h3.6v3.6h-3.6zM250.1 994.8h3.6v3.6h-3.6zM253.9 972.2h3.6v3.6h-3.6zM257.6 963.7h3.6v3.6h-3.6zM261.3 974.7h3.6v3.6h-3.6zM265.1 1001.6h3.6v3.6h-3.6zM268.8 1023.5h3.6v3.6h-3.6zM272.6 1062.7h3.6v3.6h-3.6zM276.3 1088.2h3.6v3.6h-3.6zM280.0 1090.6h3.6v3.6h-3.6zM283.8 1079.0h3.6v3.6h-3.6zM287.5 1039.8h3.6v3.6h-3.6zM291.2 1020.0h3.6v3.6h-3.6zM295.0 992.7h3.6v3.6h-3.6zM298.7 973.6h3.6v3.6h-3.6zM302.5 958.0h3.6v3.6h-3.6zM306.2 959.4h3.6v3.6h-3.6zM309.9 988.4h3.6v3.6h-3.6zM313.7 1018.2h3.6v3.6h-3.6zM317.4 1058.2h3.6v3.6h-3.6zM321.1 1087.5h3.6v3.6h-3.6zM324.9 1082.2h3.6v3.6h-3.6zM328.6 1090.3h3.6v3.6h-3.6zM332.3 1040.4h3.6v3.6h-3.6zM336.1 1020.3h3.6v3.6h-3.6zM339.8 998.3h3.6v3.6h-3.6zM343.6 974.3h3.6v3.6h-3.6zM347.3 963.7h3.6v3.6h-3.6zM351.0 979.5h3.6v3.6h-3.6zM354.8 1000.5h3.6v3.6h-3.6zM358.5 1020.6h3.6v3.6h-3.6zM362.2 1054.9h3.6v3.6h-3.6zM366.0 1087.1h3.6v3.6h-3.6zM369.7 1085.6h3.6v3.6h-3.6zM373.5 1077.3h3.6v3.6h-3.6zM377.2 1048.6h3.6v3.6h-3.6zM380.9 1023.8h3.6v3.6h-3.6zM384.7 998.8h3.6v3.6h-3.6zM388.4 984.9h3.6v3.6h-3.6zM392.1 971.2h3.6v3.6h-3.6zM395.9 976.7h3.6v3.6h-3.6zM399.6 995.9h3.6v3.6h-3.6zM403.4 1022.4h3.6v3.6h-3.6zM407.1 1059.6h3.6v3.6h-3.6zM410.8 1081.1h3.6v3.6h-3.6zM414.6 1088.5h3.6v3.6h-3.6zM418.3 1080.2h3.6v3.6h-3.6zM422.0 1044.3h3.6v3.6h-3.6zM425.8 1011.1h3.6v3.6h-3.6zM429.5 1003.6h3.6v3.6h-3.6zM433.2 975.3h3.6v3.6h-3.6zM437.0 963.7h3.6v3.6h-3.6zM440.7 966.5h3.6v3.6h-3.6zM444.5 988.4h3.6v3.6h-3.6zM448.2 1024.2h3.6v3.6h-3.6zM451.9 1053.9h3.6v3.6h-3.6zM455.7 1073.8h3.6v3.6h-3.6zM459.4 1086.5h3.6v3.6h-3.6zM463.1 1073.3h3.6v3.6h-3.6zM466.9 1056.4h3.6v3.6h-3.6zM470.6 1015.3h3.6v3.6h-3.6zM474.4 994.8h3.6v3.6h-3.6zM478.1 976.7h3.6v3.6h-3.6zM481.8 984.2h3.6v3.6h-3.6zM485.6 963.7h3.6v3.6h-3.6zM489.3 1004.7h3.6v3.6h-3.6zM493.0 1026.6h3.6v3.6h-3.6zM496.8 1051.4h3.6v3.6h-3.6zM500.5 1078.3h3.6v3.6h-3.6zM504.3 1084.4h3.6v3.6h-3.6zM508.0 1081.4h3.6v3.6h-3.6zM511.7 1039.4h3.6v3.6h-3.6zM515.5 1007.8h3.6v3.6h-3.6zM519.2 992.7h3.6v3.6h-3.6zM522.9 962.3h3.6v3.6h-3.6zM526.7 951.2h3.6v3.6h-3.6zM530.4 950.7h3.6v3.6h-3.6zM534.1 997.9h3.6v3.6h-3.6zM537.9 1027.6h3.6v3.6h-3.6zM541.6 1057.1h3.6v3.6h-3.6zM545.4 1090.0h3.6v3.6h-3.6zM549.1 1092.9h3.6v3.6h-3.6zM552.8 1085.6h3.6v3.6h-3.6zM556.6 1037.5h3.6v3.6h-3.6zM560.3 1008.5h3.6v3.6h-3.6zM564.0 986.7h3.6v3.6h-3.6zM567.8 965.1h3.6v3.6h-3.6zM571.5 954.9h3.6v3.6h-3.6zM575.3 960.6h3.6v3.6h-3.6zM579.0 989.4h3.6v3.6h-3.6zM582.7 1020.0h3.6v3.6h-3.6zM586.5 1044.6h3.6v3.6h-3.6zM590.2 1071.5h3.6v3.6h-3.6zM593.9 1087.9h3.6v3.6h-3.6zM597.7 1066.7h3.6v3.6h-3.6zM601.4 1038.7h3.6v3.6h-3.6zM605.2 1026.6h3.6v3.6h-3.6zM608.9 996.2h3.6v3.6h-3.6zM612.6 990.8h3.6v3.6h-3.6zM616.4 985.6h3.6v3.6h-3.6zM620.1 972.2h3.6v3.6h-3.6zM623.8 1011.0h3.6v3.6h-3.6zM627.6 1034.4h3.6v3.6h-3.6zM631.3 1066.5h3.6v3.6h-3.6zM635.0 1089.4h3.6v3.6h-3.6zM638.8 1089.4h3.6v3.6h-3.6zM642.5 1063.9h3.6v3.6h-3.6zM646.3 1042.9h3.6v3.6h-3.6zM650.0 1029.9h3.6v3.6h-3.6zM653.7 1004.7h3.6v3.6h-3.6zM657.5 993.4h3.6v3.6h-3.6zM661.2 986.4h3.6v3.6h-3.6zM664.9 990.0h3.6v3.6h-3.6zM668.7 1002.0h3.6v3.6h-3.6zM672.4 1031.4h3.6v3.6h-3.6zM676.2 1054.9h3.6v3.6h-3.6zM679.9 1075.9h3.6v3.6h-3.6zM683.6 1091.7h3.6v3.6h-3.6zM687.4 1089.0h3.6v3.6h-3.6zM691.1 1038.4h3.6v3.6h-3.6zM694.8 1017.9h3.6v3.6h-3.6zM698.6 1004.7h3.6v3.6h-3.6zM702.3 980.7h3.6v3.6h-3.6zM706.1 967.5h3.6v3.6h-3.6zM709.8 980.4h3.6v3.6h-3.6zM713.5 1002.4h3.6v3.6h-3.6zM717.3 1030.6h3.6v3.6h-3.6zM721.0 1044.4h3.6v3.6h-3.6zM724.7 1086.9h3.6v3.6h-3.6z" fill="#D4342E"/>
<line x1="139.8" y1="91" x2="729.2" y2="91" stroke="#000" stroke-width="2.6"/>
<line x1="143.5" y1="89.7" x2="143.5" y2="572" stroke="#000" stroke-width="2.7"/>
<line x1="143.9" y1="572" x2="143.9" y2="1108.4" stroke="#000" stroke-width="2.1"/>
<line x1="728.0" y1="89.7" x2="728.0" y2="1108.4" stroke="#000" stroke-width="2.3"/>
<line x1="139.2" y1="1107.7" x2="729.2" y2="1107.7" stroke="#000" stroke-width="1.6"/>
<text x="127.6" y="115.8" font-size="18" text-anchor="end" fill="#000" stroke="#000" >2</text>
<text x="127.6" y="155.8" font-size="18" text-anchor="end" fill="#000" stroke="#000" >1</text>
<text x="127.6" y="195.8" font-size="18" text-anchor="end" fill="#000" stroke="#000" >0</text>
<text x="127.6" y="235.8" font-size="18" text-anchor="end" fill="#000" stroke="#000" >-1</text>
<text x="743.2" y="253.4" font-size="18" text-anchor="start" fill="#000" stroke="#000" >-9</text>
<text x="743.2" y="288.9" font-size="18" text-anchor="start" fill="#000" stroke="#000" >-8</text>
<text x="743.2" y="324.4" font-size="18" text-anchor="start" fill="#000" stroke="#000" >-7</text>
<text x="743.2" y="359.9" font-size="18" text-anchor="start" fill="#000" stroke="#000" >-6</text>
<text x="743.2" y="395.4" font-size="18" text-anchor="start" fill="#000" stroke="#000" >-5</text>
<text x="129.4" y="428.7" font-size="18" text-anchor="end" fill="#000" stroke="#000" >-11</text>
<text x="129.4" y="455.3" font-size="18" text-anchor="end" fill="#000" stroke="#000" >-10</text>
<text x="129.4" y="481.9" font-size="18" text-anchor="end" fill="#000" stroke="#000" >-9</text>
<text x="129.4" y="508.5" font-size="18" text-anchor="end" fill="#000" stroke="#000" >-8</text>
<text x="129.4" y="535.1" font-size="18" text-anchor="end" fill="#000" stroke="#000" >-7</text>
<text x="129.4" y="561.7" font-size="18" text-anchor="end" fill="#000" stroke="#000" >-6</text>
<text x="737.4" y="558.2" font-size="18" text-anchor="start" fill="#000" stroke="#000" >-10</text>
<text x="737.4" y="598.2" font-size="18" text-anchor="start" fill="#000" stroke="#000" >-9</text>
<text x="737.4" y="638.2" font-size="18" text-anchor="start" fill="#000" stroke="#000" >-8</text>
<text x="737.4" y="678.2" font-size="18" text-anchor="start" fill="#000" stroke="#000" >-7</text>
<text x="737.4" y="718.2" font-size="18" text-anchor="start" fill="#000" stroke="#000" >-6</text>
<text x="129.4" y="697.8" font-size="18" text-anchor="end" fill="#000" stroke="#000" >-12</text>
<text x="129.4" y="733.3" font-size="18" text-anchor="end" fill="#000" stroke="#000" >-10</text>
<text x="129.4" y="768.8" font-size="18" text-anchor="end" fill="#000" stroke="#000" >-8</text>
<text x="129.4" y="804.3" font-size="18" text-anchor="end" fill="#000" stroke="#000" >-6</text>
<text x="129.4" y="839.8" font-size="18" text-anchor="end" fill="#000" stroke="#000" >-4</text>
<text x="742.8" y="826.7" font-size="17" text-anchor="start" fill="#000" stroke="#000" >-11</text>
<text x="742.8" y="846.6" font-size="17" text-anchor="start" fill="#000" stroke="#000" >-10</text>
<text x="742.8" y="866.6" font-size="17" text-anchor="start" fill="#000" stroke="#000" >-9</text>
<text x="742.8" y="886.5" font-size="17" text-anchor="start" fill="#000" stroke="#000" >-8</text>
<text x="742.8" y="906.4" font-size="17" text-anchor="start" fill="#000" stroke="#000" >-7</text>
<text x="742.8" y="926.3" font-size="17" text-anchor="start" fill="#000" stroke="#000" >-6</text>
<text x="742.8" y="946.3" font-size="17" text-anchor="start" fill="#000" stroke="#000" >-5</text>
<text x="742.8" y="966.2" font-size="17" text-anchor="start" fill="#000" stroke="#000" >-4</text>
<text x="742.8" y="986.1" font-size="17" text-anchor="start" fill="#000" stroke="#000" >-3</text>
<text x="134.3" y="1113.6" font-size="18" text-anchor="end" fill="#000" stroke="#000" >0</text>
<text x="134.3" y="1073.8" font-size="18" text-anchor="end" fill="#000" stroke="#000" >100</text>
<text x="134.3" y="1034.1" font-size="18" text-anchor="end" fill="#000" stroke="#000" >200</text>
<text x="134.3" y="994.4" font-size="18" text-anchor="end" fill="#000" stroke="#000" >300</text>
<text x="134.3" y="954.6" font-size="18" text-anchor="end" fill="#000" stroke="#000" >400</text>
<path d="M135.8 109.7H143.6M135.8 149.7H143.6M135.8 189.7H143.6M135.8 229.7H143.6M139.5 89.7H143.6M139.5 129.7H143.6M139.5 169.7H143.6M139.5 209.7H143.6M139.5 249.7H143.6M728.0 247.3H736.5M728.0 282.8H736.5M728.0 318.3H736.5M728.0 353.8H736.5M728.0 389.3H736.5M728.0 265.0H732.5M728.0 300.5H732.5M728.0 336.0H732.5M728.0 371.5H732.5M728.0 407.0H732.5M136.4 422.6H143.6M136.4 449.2H143.6M136.4 475.8H143.6M136.4 502.4H143.6M136.4 529.0H143.6M136.4 555.6H143.6M140.3 409.3H143.6M140.3 435.9H143.6M140.3 462.5H143.6M140.3 489.1H143.6M140.3 515.7H143.6M140.3 542.3H143.6M140.3 568.9H143.6M728.0 552.1H734.0M728.0 592.1H734.0M728.0 632.1H734.0M728.0 672.1H734.0M728.0 712.1H734.0M728.0 572.1H731.5M728.0 612.1H731.5M728.0 652.1H731.5M728.0 692.1H731.5M136.8 691.7H143.6M136.8 727.2H143.6M136.8 762.7H143.6M136.8 798.2H143.6M136.8 833.7H143.6M728.0 820.9H735.8M728.0 840.8H735.8M728.0 860.8H735.8M728.0 880.7H735.8M728.0 900.6H735.8M728.0 920.5H735.8M728.0 940.5H735.8M728.0 960.4H735.8M728.0 980.3H735.8M728.0 830.9H731.5M728.0 850.8H731.5M728.0 870.8H731.5M728.0 890.7H731.5M728.0 910.6H731.5M728.0 930.5H731.5M728.0 950.5H731.5M728.0 970.4H731.5M139.1 1107.5H143.6M139.1 1067.8H143.6M139.1 1028.0H143.6M139.1 988.2H143.6M139.1 948.5H143.6M141.0 1087.6H143.6M141.0 1047.8H143.6M141.0 1008.1H143.6M141.0 968.3H143.6M189.2 1107V1112.8M234.2 1107V1112.8M279.2 1107V1112.8M324.2 1107V1112.8M369.2 1107V1112.8M414.2 1107V1112.8M459.2 1107V1112.8M504.2 1107V1112.8M549.2 1107V1112.8M594.2 1107V1112.8M639.2 1107V1112.8M684.2 1107V1112.8M729.2 1107V1112.8" stroke="#000" stroke-width="2.2" fill="none"/>
<text x="202.4" y="1132.1" font-size="19" text-anchor="end" fill="#000" stroke="#000" transform="rotate(-45 202.4 1132.1)" >2010/12/31</text>
<text x="247.4" y="1132.1" font-size="19" text-anchor="end" fill="#000" stroke="#000" transform="rotate(-45 247.4 1132.1)" >2011/12/31</text>
<text x="292.4" y="1132.1" font-size="19" text-anchor="end" fill="#000" stroke="#000" transform="rotate(-45 292.4 1132.1)" >2012/12/31</text>
<text x="337.4" y="1132.1" font-size="19" text-anchor="end" fill="#000" stroke="#000" transform="rotate(-45 337.4 1132.1)" >2013/12/31</text>
<text x="382.4" y="1132.1" font-size="19" text-anchor="end" fill="#000" stroke="#000" transform="rotate(-45 382.4 1132.1)" >2014/12/31</text>
<text x="427.4" y="1132.1" font-size="19" text-anchor="end" fill="#000" stroke="#000" transform="rotate(-45 427.4 1132.1)" >2015/12/31</text>
<text x="472.4" y="1132.1" font-size="19" text-anchor="end" fill="#000" stroke="#000" transform="rotate(-45 472.4 1132.1)" >2016/12/31</text>
<text x="517.4" y="1132.1" font-size="19" text-anchor="end" fill="#000" stroke="#000" transform="rotate(-45 517.4 1132.1)" >2017/12/31</text>
<text x="562.4" y="1132.1" font-size="19" text-anchor="end" fill="#000" stroke="#000" transform="rotate(-45 562.4 1132.1)" >2018/12/31</text>
<text x="607.4" y="1132.1" font-size="19" text-anchor="end" fill="#000" stroke="#000" transform="rotate(-45 607.4 1132.1)" >2019/12/31</text>
<text x="652.4" y="1132.1" font-size="19" text-anchor="end" fill="#000" stroke="#000" transform="rotate(-45 652.4 1132.1)" >2020/12/31</text>
<text x="697.4" y="1132.1" font-size="19" text-anchor="end" fill="#000" stroke="#000" transform="rotate(-45 697.4 1132.1)" >2021/12/31</text>
<text x="742.4" y="1132.1" font-size="19" text-anchor="end" fill="#000" stroke="#000" transform="rotate(-45 742.4 1132.1)" >2022/12/31</text>
<line x1="72.7" y1="937" x2="72.7" y2="1108.8" stroke="#D41C1C" stroke-width="2.4"/>
<text x="67" y="943.3" font-size="18" text-anchor="end" fill="#C82C2A" stroke="#C82C2A" >30</text>
<text x="67" y="969.2" font-size="18" text-anchor="end" fill="#C82C2A" stroke="#C82C2A" >25</text>
<text x="67" y="995.2" font-size="18" text-anchor="end" fill="#C82C2A" stroke="#C82C2A" >20</text>
<text x="67" y="1021.1" font-size="18" text-anchor="end" fill="#C82C2A" stroke="#C82C2A" >15</text>
<text x="67" y="1047.1" font-size="18" text-anchor="end" fill="#C82C2A" stroke="#C82C2A" >10</text>
<text x="67" y="1073.0" font-size="18" text-anchor="end" fill="#C82C2A" stroke="#C82C2A" >5</text>
<text x="67" y="1099.0" font-size="18" text-anchor="end" fill="#C82C2A" stroke="#C82C2A" >0</text>
<text x="153.4" y="115.6" font-size="19" text-anchor="start" fill="#000" stroke="#000" >(a)</text>
<text x="157" y="267.8" font-size="19" text-anchor="start" fill="#000" stroke="#000" >(b)</text>
<text x="156.9" y="429.3" font-size="19" text-anchor="start" fill="#000" stroke="#000" >(c)</text>
<text x="156.1" y="599" font-size="19" text-anchor="start" fill="#000" stroke="#000" >(d)</text>
<text x="157.6" y="738.5" font-size="19" text-anchor="start" fill="#000" stroke="#000" >(e)</text>
<text x="155.6" y="866.6" font-size="19" text-anchor="start" fill="#000" stroke="#000" >(f)</text>
<text x="153" y="933" font-size="19" text-anchor="start" fill="#000" stroke="#000" >(g)</text>
<text transform="translate(103.3 171.2) rotate(-90)" font-size="21" text-anchor="middle" fill="#000" stroke="#000">Standaridized SSN</text>
<text transform="translate(790 334.5) rotate(-90)" font-size="21" text-anchor="middle" fill="#000" stroke="#000">Precipitation δ<tspan dy="-8.5" font-size="13.5">18</tspan><tspan dy="8.5">0</tspan></text>
<text transform="translate(816.4 334.5) rotate(-90)" font-size="21" text-anchor="middle" fill="#000" stroke="#000">VSMOW/‰</text>
<text transform="translate(70.1 487.9) rotate(-90)" font-size="21" text-anchor="middle" fill="#000" stroke="#000">Drip water δ<tspan dy="-8.5" font-size="13.5">18</tspan><tspan dy="8.5">O</tspan></text>
<text transform="translate(96.5 488) rotate(-90)" font-size="21" text-anchor="middle" fill="#000" stroke="#000">VSMOW/‰</text>
<text transform="translate(787.4 631.9) rotate(-90)" font-size="21" text-anchor="middle" fill="#000" stroke="#000">DTH δ<tspan dy="-8.5" font-size="13.5">18</tspan><tspan dy="8.5">O</tspan></text>
<text transform="translate(814 631.5) rotate(-90)" font-size="21" text-anchor="middle" fill="#000" stroke="#000">VSMOW/‰</text>
<text transform="translate(69.4 775.7) rotate(-90)" font-size="21" text-anchor="middle" fill="#000" stroke="#000">YCG δ<tspan dy="-8.5" font-size="13.5">18</tspan><tspan dy="8.5">O</tspan></text>
<text transform="translate(95.3 772) rotate(-90)" font-size="21" text-anchor="middle" fill="#000" stroke="#000">VSMOW/‰</text>
<text transform="translate(794.2 900) rotate(-90)" font-size="21" text-anchor="middle" fill="#000" stroke="#000">YZT δ<tspan dy="-8.5" font-size="13.5">18</tspan><tspan dy="8.5">O</tspan></text>
<text transform="translate(821.3 900) rotate(-90)" font-size="21" text-anchor="middle" fill="#000" stroke="#000">VSOMW/‰</text>
<text transform="translate(41.6 1021.8) rotate(-90)" font-size="19" text-anchor="middle" fill="#C82C2A" stroke="#C82C2A">Temperature/°C</text>
<text transform="translate(99.4 1027.8) rotate(-90)" font-size="21" text-anchor="middle" fill="#000" stroke="#000">Precipitation/mm</text>
<text x="415.8" y="1222.8" font-size="28" text-anchor="middle" fill="#000" stroke="#000" >Date</text>
</svg></body></html>
